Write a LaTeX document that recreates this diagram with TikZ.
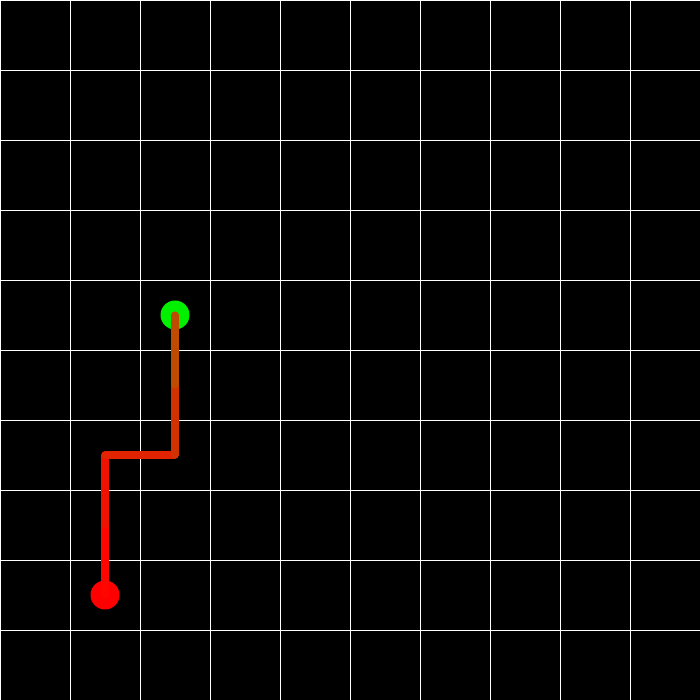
\documentclass[tikz,border=0pt]{standalone}
\usepackage{tikz}
\usetikzlibrary{positioning}
\usepackage{xcolor}
\definecolor{startred}{RGB}{255,0,0}
\definecolor{goalgreen}{RGB}{0,240,0}
\definecolor{trailA}{RGB}{255,5,0}
\definecolor{trailB}{RGB}{240,18,0}
\definecolor{trailC}{RGB}{225,35,0}
\definecolor{trailD}{RGB}{210,50,0}
\definecolor{trailE}{RGB}{190,75,0}

\begin{document}
\begin{tikzpicture}[
    x=0.7cm, y=0.7cm,
    cell/.style={draw=white, line width=0.25pt},
    dot/.style={circle, inner sep=0pt, minimum size=0.29cm},
    trail/.style={line width=2pt, line cap=round}
]
% Background and grid
\useasboundingbox (0,0) rectangle (10,10);
\fill[black] (0,0) rectangle (10,10);
\draw[cell, step=0.7cm] (0,0) grid (10,10);

% Start and goal
\node[dot, fill=startred] (start) at (1.5, 1.5) {};
\node[dot, fill=goalgreen] (goal) at (2.5, 5.5) {};

% Waypoints of the path
\coordinate (w1) at (1.5, 2.5);
\coordinate (w2) at (1.5, 3.5);
\coordinate (w3) at (2.5, 3.5);
\coordinate (w4) at (2.5, 4.5);

\draw[trail, color=trailA] (start.center) -- (w1);
\draw[trail, color=trailB] (w1) -- (w2);
\draw[trail, color=trailC] (w2) -- (w3);
\draw[trail, color=trailD] (w3) -- (w4);
\draw[trail, color=trailE] (w4) -- (goal.center);
\end{tikzpicture}
\end{document}
